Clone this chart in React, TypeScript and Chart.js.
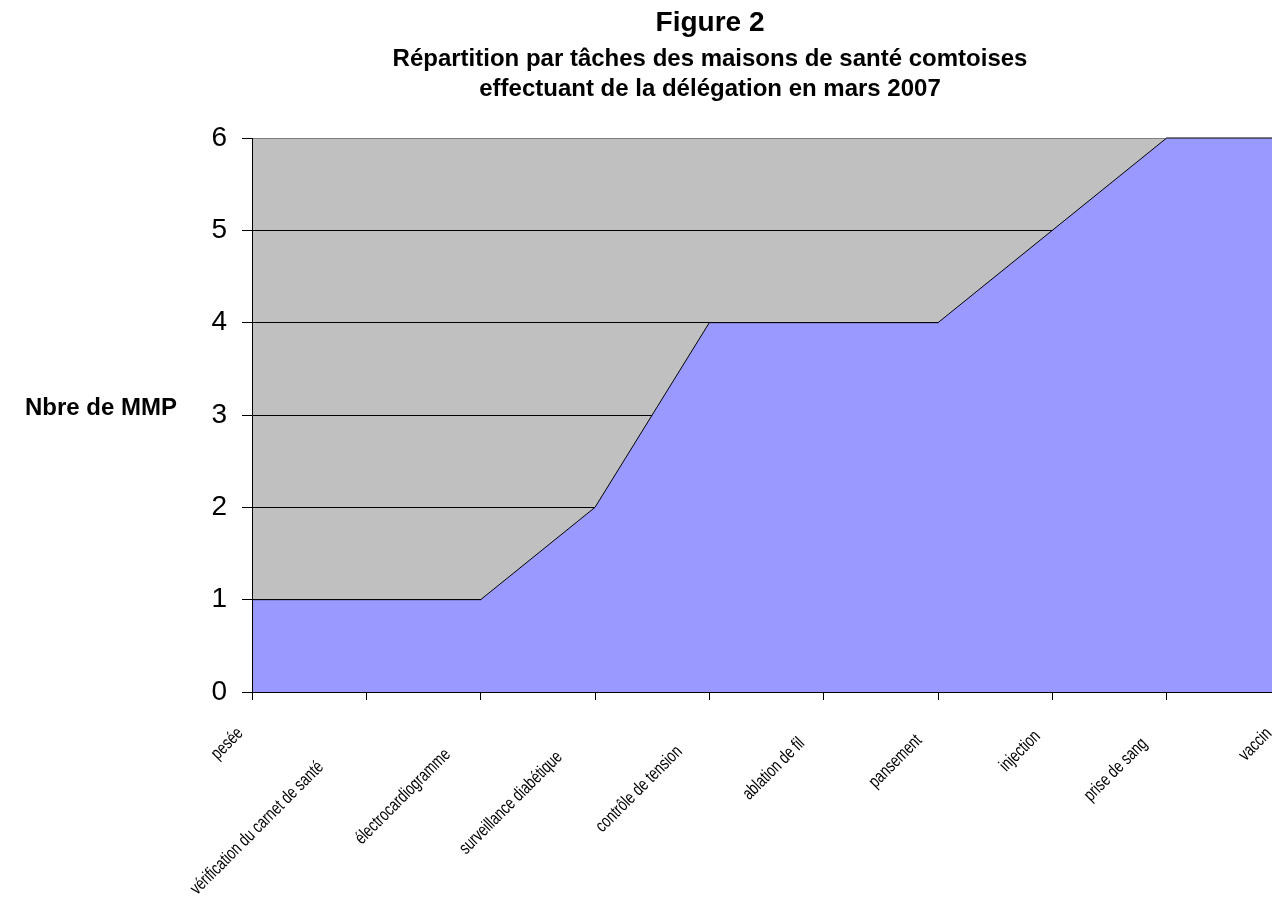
import React, { useEffect, useRef } from "react";
import { Chart, registerables } from "chart.js";

Chart.register(...registerables);

const categories = [
  "pesée",
  "vérification du carnet de santé",
  "électrocardiogramme",
  "surveillance diabétique",
  "contrôle de tension",
  "ablation de fil",
  "pansement",
  "injection",
  "prise de sang",
  "vaccin",
];
const mmpCounts = [1, 1, 1, 2, 4, 4, 4, 5, 6, 6];
const yMin = 0;
const yMax = 6;
const yStep = 1;
const titleText = "Figure 2";
const subtitleLines = [
  "Répartition par tâches des maisons de santé comtoises",
  "effectuant de la délégation en mars 2007",
];
const yAxisLabel = "Nbre de MMP";

const FONT = "'Liberation Sans', Arial, Helvetica, sans-serif";

const decorPlugin = {
  id: "decor",
  beforeDraw(chart: any) {
    const { ctx, chartArea: a } = chart;
    ctx.save();
    ctx.fillStyle = "#ffffff";
    ctx.fillRect(0, 0, chart.width, chart.height);
    ctx.fillStyle = "#C0C0C0";
    ctx.fillRect(a.left, a.top, a.right - a.left, a.bottom - a.top);
    ctx.restore();
  },
  afterDraw(chart: any) {
    const { ctx, chartArea: a } = chart;
    const xs = chart.scales.x;
    const ys = chart.scales.y;
    ctx.save();
    ctx.fillStyle = "#000000";
    ctx.textBaseline = "alphabetic";
    ctx.textAlign = "center";
    const cx = 710;
    ctx.font = `bold 28px ${FONT}`;
    ctx.fillText(titleText, cx, 31);
    ctx.font = `bold 24px ${FONT}`;
    subtitleLines.forEach((line, i) => ctx.fillText(line, cx, 66 + i * 30));

    ctx.textAlign = "right";
    ctx.font = `bold 24px ${FONT}`;
    ctx.fillText(yAxisLabel, a.left - 75, ys.getPixelForValue(3));

    // category labels, rotated 45°, condensed
    const sx = 0.75;
    ctx.font = `18px ${FONT}`;
    categories.forEach((lab, i) => {
      const t = xs.getPixelForTick(i);
      const w = ctx.measureText(lab).width * sx;
      ctx.save();
      ctx.translate(t - 3, a.bottom + 30);
      ctx.rotate(-Math.PI / 4);
      ctx.translate(-w / 3, 0);
      ctx.scale(sx, 1);
      ctx.textAlign = "right";
      ctx.textBaseline = "middle";
      ctx.fillText(lab, 0, 0);
      ctx.restore();
    });
    ctx.restore();
  },
};

export default function App() {
  const canvasRef = useRef<HTMLCanvasElement | null>(null);

  useEffect(() => {
    if (!canvasRef.current) return;
    const chart = new Chart(canvasRef.current, {
      type: "line",
      data: {
        labels: categories,
        datasets: [
          {
            data: mmpCounts,
            fill: "origin",
            backgroundColor: "#9999FF",
            borderColor: "#000000",
            borderWidth: 1,
            pointRadius: 0,
            pointHoverRadius: 0,
            tension: 0,
            clip: { left: -1, top: 3, right: 3, bottom: 0 },
          } as any,
        ],
      },
      options: {
        animation: false,
        responsive: true,
        maintainAspectRatio: false,
        events: [],
        layout: { padding: { top: 138, left: 0, right: 0, bottom: 0 } },
        plugins: {
          legend: { display: false },
          tooltip: { enabled: false },
          title: { display: false },
        },
        scales: {
          x: {
            type: "category",
            offset: false,
            grid: {
              drawOnChartArea: false,
              drawTicks: true,
              tickLength: 8,
              color: "#000000",
              tickColor: "#000000",
            },
            border: { display: true, color: "#000000", width: 1 },
            ticks: { display: false, autoSkip: false },
            afterFit: (s: any) => {
              s.height = 205;
              s.paddingLeft = 0;
              s.paddingRight = 0;
            },
          },
          y: {
            min: yMin,
            max: yMax,
            ticks: {
              stepSize: yStep,
              color: "#000000",
              font: { family: FONT, size: 28 },
              padding: 15,
            },
            grid: {
              color: (c: any) => (c.tick && c.tick.value === yMax ? "#808080" : "#000000"),
              tickColor: "#000000",
              tickLength: 10,
              lineWidth: 1,
            },
            border: { display: true, color: "#000000", width: 1 },
            afterFit: (s: any) => {
              s.width = 252;
            },
          },
        },
      },
      plugins: [decorPlugin],
    });
    return () => chart.destroy();
  }, []);

  return (
    <div
      style={{
        position: "fixed",
        left: 0,
        top: 0,
        width: 1272,
        height: 897,
        overflow: "hidden",
        background: "#ffffff",
      }}
    >
      <div style={{ position: "relative", width: 1281, height: 897 }}>
        <canvas ref={canvasRef} style={{ display: "block" }} />
      </div>
    </div>
  );
}
